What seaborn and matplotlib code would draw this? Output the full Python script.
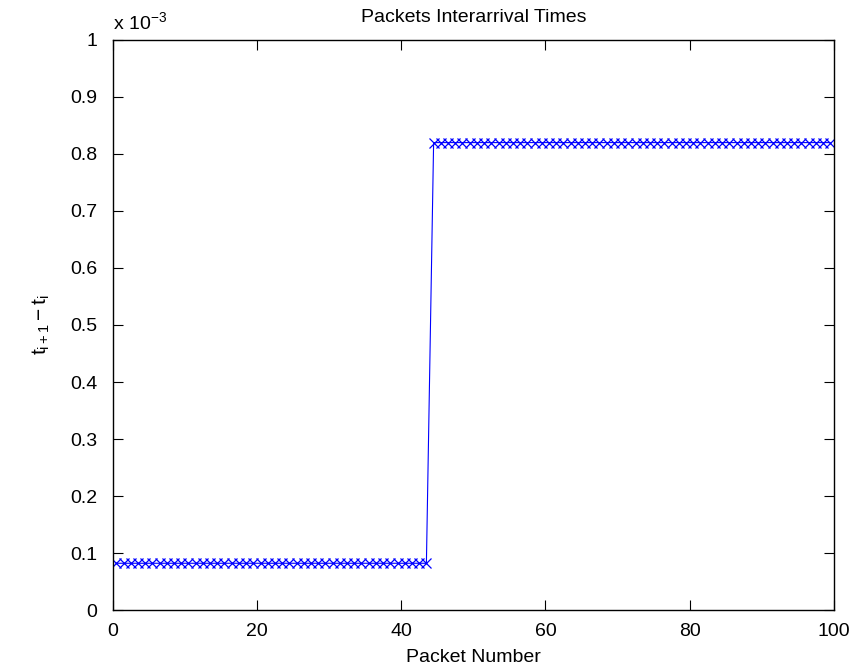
import numpy as np
import pandas as pd
import matplotlib
matplotlib.use("Agg")
import matplotlib.pyplot as plt
import seaborn as sns

# ---- data ----
low_value = 0.082e-3      # interarrival time before the jump (s)
high_value = 0.82e-3      # interarrival time after the jump (s)
n_low = 44
n_high = 56
packet_number = np.arange(n_low + n_high) + 0.5
interarrival = [low_value] * n_low + [high_value] * n_high

x_ticks = [0, 20, 40, 60, 80, 100]
y_ticks = [0, 0.1e-3, 0.2e-3, 0.3e-3, 0.4e-3, 0.5e-3, 0.6e-3, 0.7e-3, 0.8e-3, 0.9e-3, 1e-3]
y_tick_labels = ["0", "0.1", "0.2", "0.3", "0.4", "0.5", "0.6", "0.7", "0.8", "0.9", "1"]

df = pd.DataFrame({"packet": packet_number, "dt": interarrival})

sns.set_theme(style="white")
plt.rcParams['font.family'] = ['Liberation Sans', 'DejaVu Sans']
plt.rcParams['mathtext.fontset'] = 'custom'
plt.rcParams['mathtext.rm'] = 'Liberation Sans'
plt.rcParams['mathtext.it'] = 'Liberation Sans'
plt.rcParams['mathtext.sf'] = 'Liberation Sans'
plt.rcParams['text.color'] = 'black'
plt.rcParams['axes.labelcolor'] = 'black'
plt.rcParams['xtick.color'] = 'black'
plt.rcParams['ytick.color'] = 'black'

fs = 14
fig = plt.figure(figsize=(8.57, 6.71), dpi=100)
ax = fig.add_axes([0.1315, 0.0909, 0.8415, 0.8495])

sns.lineplot(data=df, x="packet", y="dt", ax=ax, color=(0, 0, 1),
             linewidth=0.8, marker="x", markersize=7, markeredgewidth=0.9,
             markeredgecolor=(0, 0, 1), estimator=None, sort=False)

ax.set_xlim(0, 100)
ax.set_ylim(0, 1e-3)
ax.set_xticks(x_ticks)
ax.set_xticklabels([str(v) for v in x_ticks], fontsize=fs)
ax.set_yticks(y_ticks)
ax.set_yticklabels(y_tick_labels, fontsize=fs)
ax.tick_params(direction="in", length=7, width=0.8, color="black",
               top=True, right=True, bottom=True, left=True)
ax.tick_params(axis="x", pad=9)
ax.tick_params(axis="y", pad=11)
for s in ax.spines.values():
    s.set_visible(True)
    s.set_color("black")
    s.set_linewidth(1.0)

ax.set_xlabel("Packet Number", fontsize=fs, labelpad=7)
ax.set_ylabel(r"$\mathregular{t_{i+1}-t_i}$", fontsize=fs + 1, labelpad=13)
ax.set_title("Packets Interarrival Times", fontsize=fs, pad=13)
ax.text(0.0, 1.012, r"x 10$^{\mathregular{-3}}$", transform=ax.transAxes,
        fontsize=fs, ha="left", va="bottom")
ax.grid(False)

fig.savefig("out.png", dpi=100, facecolor="white")
